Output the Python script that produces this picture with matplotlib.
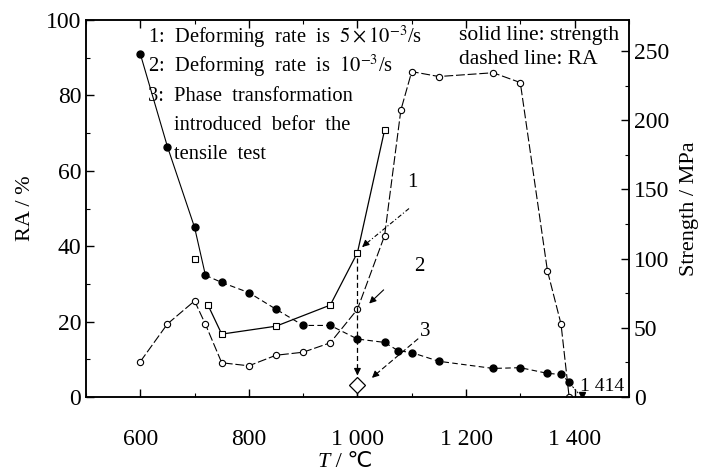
import matplotlib
matplotlib.use('Agg')
import matplotlib.pyplot as plt
from matplotlib.ticker import MultipleLocator

plt.rcParams['font.family'] = ['Liberation Serif', 'DejaVu Sans']
plt.rcParams['mathtext.fontset'] = 'stix'

# Filled circles (curve 3)
t_fill = [600, 650, 700, 720, 750, 800, 850, 900, 950, 1000, 1050, 1075, 1100, 1150, 1250, 1300, 1350, 1375, 1390]
ra_fill = [91, 66.4, 45, 32.3, 30.4, 27.7, 23.3, 19, 19, 15.4, 14.5, 12.3, 11.8, 9.5, 7.6, 7.8, 6.3, 6.0, 4.0]

# Open squares (curve 1)
t_sq_single = [700]
ra_sq_single = [36.6]
t_sq = [725, 750, 850, 950, 1000, 1050]
ra_sq = [24.3, 16.7, 18.8, 24.4, 38.3, 70.8]

# Open circles (curve 2)
t_open = [600, 650, 700, 720, 750, 800, 850, 900, 950, 1000, 1050, 1080, 1100, 1150, 1250, 1300, 1350, 1375, 1390]
ra_open = [9.4, 19.4, 25.5, 19.3, 9.1, 8.3, 11.1, 11.9, 14.4, 23.3, 42.8, 76.1, 86.3, 85, 86, 83.4, 33.5, 19.4, 0]

xticks = [600, 800, 1000, 1200, 1400]
xtick_labels = ['600', '800', '1 000', '1 200', '1 400']

fig = plt.figure(figsize=(7.05, 4.75), dpi=100)
ax = fig.add_axes([0.122, 0.164, 0.77, 0.794])

# filled circle curve: solid start, dashed rest
ax.plot(t_fill[:4], ra_fill[:4], color='black', lw=0.8)
ax.plot(t_fill[3:], ra_fill[3:], color='black', lw=0.8, ls=(0, (5, 3)))
ax.plot(t_fill, ra_fill, 'o', color='black', ms=5)

ax.plot(t_sq, ra_sq, color='black', lw=0.9, marker='s', ms=4, mfc='white', mec='black', mew=0.8)
ax.plot(t_sq_single, ra_sq_single, ls='none', marker='s', ms=4, mfc='white', mec='black', mew=0.8)

ax.plot(t_open, ra_open, color='black', lw=0.8, ls=(0, (8, 2.5)),
        marker='o', ms=4.5, mfc='white', mec='black', mew=0.8)

# vertical guide at 1000 down to the diamond
ax.plot([1000, 1000], [37, 6], color='black', lw=0.9, ls=(0, (4, 2.5)))
ax.annotate('', xy=(1000, 5.0), xytext=(1000, 8),
            arrowprops=dict(arrowstyle='-|>', color='black', lw=0.9, mutation_scale=10))
ax.plot([1000, 1000], [0, 1.5], color='black', lw=0.9)
ax.plot([1000], [3.2], marker='D', ms=8, mfc='white', mec='black', mew=0.9)

# pointer lines for labels
ax.plot([1095, 1012], [50, 40.2], color='black', lw=0.8, ls=(0, (4, 2, 1, 2)))
ax.annotate('', xy=(1005, 39.3), xytext=(1015, 40.6),
            arrowprops=dict(arrowstyle='-|>', color='black', lw=0.8, mutation_scale=10))
ax.plot([1048, 1026], [28.4, 25.4], color='black', lw=0.8)
ax.annotate('', xy=(1018, 24.3), xytext=(1028, 25.7),
            arrowprops=dict(arrowstyle='-|>', color='black', lw=0.8, mutation_scale=10))
ax.plot([1112, 1032], [15.5, 5.8], color='black', lw=0.8, ls=(0, (5, 2.5)))
ax.annotate('', xy=(1023, 4.6), xytext=(1035, 6.2),
            arrowprops=dict(arrowstyle='-|>', color='black', lw=0.8, mutation_scale=10))

ax.text(1101, 57, '1', fontsize=15, ha='center', va='center')
ax.text(1114, 34.7, '2', fontsize=15, ha='center', va='center')
ax.text(1124, 17.3, '3', fontsize=15, ha='center', va='center')

# melting point marker
ax.plot([1392, 1407], [3.5, 1.0], color='black', lw=0.7, ls=(0, (2, 1.5)))
ax.plot([1414], [0.5], marker='v', ms=4, color='black')
ax.text(1410, 2.8, '1 414', fontsize=14, ha='left', va='center')

# description text
fs = 14.8
ax.text(614, 95.5, r'1:  Deforming  rate  is  $5\times10^{-3}$/s', fontsize=fs, va='center')
ax.text(614, 87.8, r'2:  Deforming  rate  is  $10^{-3}$/s', fontsize=fs, va='center')
ax.text(614, 79.8, '3:  Phase  transformation', fontsize=fs, va='center')
ax.text(662, 71.9, 'introduced  befor  the', fontsize=fs, va='center')
ax.text(662, 64.2, 'tensile  test', fontsize=fs, va='center')
ax.text(1188, 96, 'solid line: strength', fontsize=15.5, va='center')
ax.text(1188, 89.4, 'dashed line: RA', fontsize=15.5, va='center')

ax.set_xlim(500, 1500)
ax.set_ylim(0, 100)
ax.set_xticks(xticks)
ax.set_xticklabels(xtick_labels)
ax.xaxis.set_minor_locator(MultipleLocator(100))
ax.yaxis.set_major_locator(MultipleLocator(20))
ax.yaxis.set_minor_locator(MultipleLocator(10))
ax.tick_params(which='both', direction='in', top=True, labelsize=17)
ax.tick_params(which='major', length=6, width=1)
ax.tick_params(which='minor', length=3, width=0.8)
ax.tick_params(axis='x', pad=23)
ax.set_ylabel('RA / %', fontsize=16, labelpad=8)

# x-axis title: italic T, then " / ℃"
fig.text(0.468, 0.027, 'T', fontsize=16, style='italic', ha='right', va='center')
fig.text(0.468, 0.027, ' / ℃', fontsize=16, ha='left', va='center')

ax2 = ax.twinx()
ax2.set_ylim(0, 272.5)
ax2.yaxis.set_major_locator(MultipleLocator(50))
ax2.yaxis.set_minor_locator(MultipleLocator(25))
ax2.tick_params(which='both', direction='in', labelsize=17)
ax2.tick_params(which='major', length=6, width=1)
ax2.tick_params(which='minor', length=3, width=0.8)
ax2.set_ylabel('Strength / MPa', fontsize=16, labelpad=8)

for a in (ax, ax2):
    for s in a.spines.values():
        s.set_linewidth(1.1)

fig.savefig('out.png', dpi=100)
